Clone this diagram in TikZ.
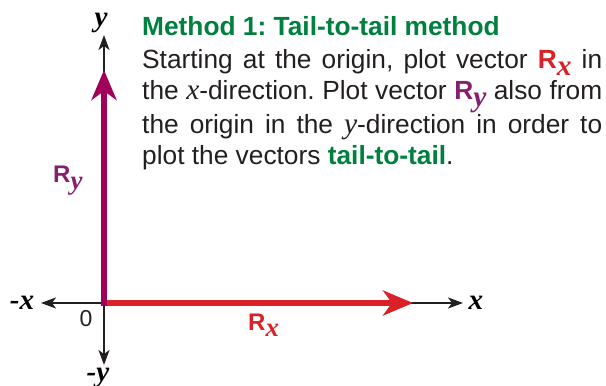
\documentclass[tikz,border=0pt]{standalone}
\usepackage{fontspec}
\setmainfont{Liberation Sans}
\newfontfamily\varfont[Scale=1.12]{Liberation Serif}
\usepackage{xcolor}
\usetikzlibrary{arrows.meta}
\definecolor{TTGreen}{HTML}{00803F}
\definecolor{TTRed}{HTML}{DA2128}
\definecolor{TTPlum}{HTML}{A0005A}
\definecolor{TTPurple}{HTML}{84206E}
\definecolor{TTAxis}{HTML}{231F20}
\newcommand{\ttvar}[1]{{\varfont\itshape #1}}
\newcommand{\ttaxis}[1]{{\varfont\bfseries\itshape #1}}
\newcommand{\ttvec}[1]{\textbf{R}\raisebox{-.27em}{\ttaxis{#1}}}
\tikzset{
  axisline/.style={TTAxis,line width=2pt,{Stealth[length=15pt,width=11pt,inset=4pt]}-{Stealth[length=15pt,width=11pt,inset=4pt]}},
  vecline/.style={line width=6.5pt,-{Stealth[length=30pt,width=25pt,inset=9pt]}},
  axislabel/.style={inner sep=0,font=\fontsize{26}{30}\selectfont},
  veclabel/.style={anchor=base west,inner sep=0,font=\fontsize{24}{28}\selectfont},
}
\frenchspacing
\begin{document}
\begin{tikzpicture}[x=1pt,y=1pt]
\path[use as bounding box] (0,0) rectangle (606,386);
% axes
\coordinate (O) at (104,83);
\coordinate (xpos) at (463,83);
\coordinate (xneg) at (41,83);
\coordinate (ypos) at (104,351);
\coordinate (yneg) at (104,21);
\draw[axisline] (xneg) -- (xpos);
\draw[axisline] (yneg) -- (ypos);
% vectors
\coordinate (Rxtip) at (413,83);
\coordinate (Rybase) at (104,79.75);
\coordinate (Rytip) at (104,316);
\draw[vecline,TTRed] (O) -- (Rxtip);
\draw[vecline,TTPlum,line width=6pt] (Rybase) -- (Rytip);
% labels
\node[axislabel] (xlab) at (476,83) {\ttaxis{x}};
\node[axislabel] (xneglab) at (22,83) {\ttaxis{-x}};
\node[axislabel] (ylab) at (101,363) {\ttaxis{y}};
\node[axislabel,anchor=north] (yneglab) at (98,18.5) {\ttaxis{-y}};
\node[inner sep=0,font=\fontsize{23}{27}\selectfont,text=TTAxis] (zero) at (86,67) {0};
\node[veclabel,text=TTRed] (Rxlab) at (248,55.5) {\ttvec{x}};
\node[veclabel,text=TTPurple] (Rylab) at (53,203) {\ttvec{y}};
% text
\node[anchor=base west,inner sep=0,font=\fontsize{26.3}{31.6}\selectfont\bfseries,text=TTGreen] (title) at (142,350) {Method 1: Tail-to-tail method};
\node[anchor=north west,inner sep=0,text width=460pt,align=justify,font=\fontsize{26.3}{31.6}\selectfont,text=TTAxis] (body) at (142,337.2) {Starting at the origin, plot vector \textcolor{TTRed}{\ttvec{x}} in\linebreak the \ttvar{x}-direction. Plot vector \textcolor{TTPurple}{\ttvec{y}} also from\linebreak the origin in the \ttvar{y}-direction in order to\linebreak plot the vectors \textcolor{TTGreen}{\textbf{tail-to-tail}}.};
\end{tikzpicture}
\end{document}
